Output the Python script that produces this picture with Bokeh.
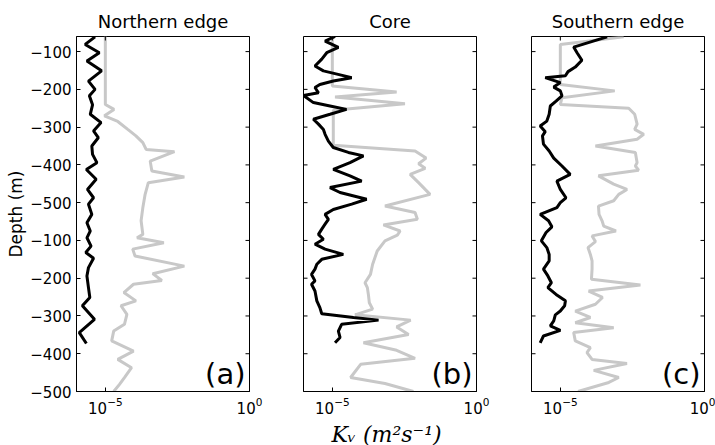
import math

from bokeh.plotting import figure
from bokeh.layouts import row
from bokeh.models import Range1d, FixedTicker, Label
from bokeh.embed import file_html
from bokeh.resources import INLINE

# ---- profile data: depth (m) and vertical diffusivity Kv (m^2/s) ----
# Northern edge
north_depth_dark = [-61, -81, -103, -125, -151, -178, -200, -217, -241, -266,
                    -288, -310, -328, -350, -372, -394, -412, -438, -465, -487,
                    -504, -531, -553, -575, -593, -615, -632, -647, -672, -694,
                    -725, -751, -773, -809, -844, -873]
north_kv_dark = [4.4e-6, 2.0e-6, 6.2e-6, 2.3e-6, 7.4e-6, 2.6e-6, 4.4e-6, 2.8e-6, 3.6e-6, 3.0e-6,
                 7.1e-6, 3.9e-6, 5.7e-6, 3.4e-6, 3.6e-6, 5.1e-6, 2.2e-6, 4.8e-6, 2.4e-6, 3.9e-6,
                 2.6e-6, 3.4e-6, 2.3e-6, 3.0e-6, 2.3e-6, 3.2e-6, 2.1e-6, 3.9e-6, 2.6e-6, 2.3e-6,
                 2.6e-6, 2.9e-6, 1.6e-6, 4.2e-6, 1.25e-6, 2.2e-6]
north_depth_light = [-60, -240, -253, -270, -285, -306, -323, -341, -359, -365,
                     -390, -416, -432, -447, -478, -513, -548, -584, -593, -606,
                     -623, -641, -668, -688, -706, -716, -738, -760, -773, -796,
                     -822, -840, -866, -893, -915, -937, -963, -981, -1000]
north_kv_light = [1.0e-5, 1.0e-5, 2.0e-5, 9.3e-6, 2.7e-5, 6.0e-5, 1.15e-4, 2.0e-4, 2.6e-4, 2.5e-3,
                  3.6e-4, 4.1e-4, 5.5e-3, 3.1e-4, 2.4e-4, 2.0e-4, 1.74e-4, 2.0e-4, 1.26e-4, 1.07e-3,
                  8.9e-5, 1.07e-4, 5.5e-3, 4.4e-4, 9.1e-4, 9.5e-5, 4.4e-5, 1.15e-4, 3.5e-5, 5.6e-5,
                  4.6e-5, 1.95e-5, 1.66e-5, 9.5e-5, 2.7e-5, 8.1e-5, 4.6e-5, 3.1e-5, 1.95e-5]

# Core
core_depth_dark = [-60, -72, -89, -103, -120, -138, -151, -169, -178, -187,
                   -195, -209, -216, -235, -244, -253, -266, -279, -292, -306,
                   -319, -337, -354, -367, -376, -394, -412, -429, -443, -460,
                   -473, -491, -504, -518, -531, -544, -557, -570, -584, -597,
                   -610, -623, -637, -650, -663, -676, -690, -707, -716, -734,
                   -760, -778, -794, -804, -811, -822, -840, -857, -871]
core_kv_dark = [1.24e-5, 5.6e-6, 1.62e-5, 6.4e-6, 4.3e-6, 2.5e-6, 4.9e-6, 4.7e-5, 1.08e-5, 3.7e-6,
                2.5e-6, 3.3e-6, 1.0e-6, 2.2e-6, 8.3e-6, 3.1e-5, 8.3e-6, 2.2e-6, 3.3e-6, 4.9e-6,
                5.6e-6, 7.3e-6, 1.08e-5, 3.6e-5, 1.2e-4, 4.1e-5, 1.08e-5, 4.1e-5, 1.04e-4, 8.3e-6,
                1.85e-5, 1.55e-4, 4.7e-5, 1.08e-5, 5.6e-6, 7.3e-6, 5.6e-6, 4.3e-6, 3.3e-6, 4.9e-6,
                2.5e-6, 5.6e-6, 2.4e-5, 4.3e-6, 2.9e-6, 2.5e-6, 1.9e-6, 2.5e-6, 1.9e-6, 2.5e-6,
                2.9e-6, 3.7e-6, 4.3e-6, 5.4e-5, 4.0e-4, 2.1e-5, 1.62e-5, 1.85e-5, 1.24e-5]
core_depth_light = [-60, -191, -207, -220, -238, -255, -348, -363, -382, -397,
                    -409, -425, -447, -478, -509, -526, -544, -559, -575, -586,
                    -601, -628, -663, -690, -712, -725, -743, -765, -782, -797,
                    -811, -829, -849, -871, -891, -912, -928, -963, -979, -1000]
core_kv_light = [1.0e-5, 1.0e-5, 1.7e-3, 1.24e-5, 3.3e-3, 1.08e-5, 1.08e-5, 7.4e-3, 1.78e-2, 9.8e-3,
                 1.66e-2, 5.0e-3, 9.8e-3, 2.45e-2, 6.7e-4, 7.4e-3, 8.9e-3, 5.9e-4, 2.24e-3, 1.8e-3,
                 6.7e-4, 3.6e-4, 2.5e-4, 2.1e-4, 1.36e-4, 1.64e-4, 1.78e-4, 1.92e-4, 2.5e-4, 6.1e-5,
                 5.2e-3, 1.7e-3, 4.4e-3, 1.2e-4, 1.7e-3, 7.4e-3, 9.6e-5, 4.3e-5, 6.7e-4, 6.5e-3]

# Southern edge
south_depth_dark = [-61, -88, -103, -123, -141, -153, -164, -169, -182, -194,
                    -204, -217, -231, -244, -266, -284, -297, -312, -323, -345,
                    -363, -382, -403, -425, -443, -465, -487, -500, -513, -531,
                    -548, -564, -579, -601, -619, -637, -654, -676, -694, -712,
                    -725, -743, -760, -773, -787, -797, -813, -826, -838, -853,
                    -871]
south_kv_dark = [4.2e-4, 2.9e-5, 3.8e-5, 5.6e-5, 3.3e-5, 1.85e-5, 1.5e-5, 3.0e-6, 1.0e-5, 5.9e-6,
                 1.0e-5, 1.14e-5, 7.1e-6, 4.5e-6, 4.1e-6, 3.4e-6, 2.0e-6, 3.0e-6, 2.4e-6, 2.6e-6,
                 4.1e-6, 5.9e-6, 1.14e-5, 2.2e-5, 7.6e-6, 1.0e-5, 1.57e-5, 1.0e-5, 7.6e-6, 2.0e-6,
                 3.9e-6, 5.1e-6, 3.2e-6, 2.2e-6, 3.4e-6, 4.1e-6, 4.1e-6, 2.6e-6, 3.7e-6, 4.9e-6,
                 3.7e-6, 7.1e-6, 1.5e-5, 1.41e-5, 1.0e-5, 6.7e-6, 5.9e-6, 4.5e-6, 1.0e-5, 2.6e-6,
                 2.0e-6]
south_depth_light = [-61, -81, -187, -204, -222, -240, -250, -266, -292, -306,
                     -319, -332, -350, -367, -394, -403, -414, -429, -451, -465,
                     -478, -495, -509, -531, -548, -562, -575, -588, -603, -619,
                     -637, -654, -676, -703, -718, -734, -751, -769, -787, -804,
                     -818, -831, -844, -866, -884, -897, -915, -926, -944, -963,
                     -976, -1000]
south_kv_light = [1.58e-3, 1.0e-5, 1.0e-5, 7.7e-4, 1.14e-5, 1.0e-5, 2.35e-3, 3.8e-3, 4.6e-3, 3.8e-3,
                  7.8e-3, 4.6e-3, 1.65e-4, 4.0e-3, 4.6e-3, 4.0e-3, 5.2e-3, 2.1e-4, 7.1e-4, 2.05e-3,
                  1.06e-3, 7.1e-4, 2.1e-4, 2.2e-4, 2.8e-4, 3.2e-4, 8.5e-4, 1.26e-4, 1.65e-4, 9.1e-5,
                  1.1e-4, 1.26e-4, 1.26e-4, 1.2e-4, 6.0e-3, 9.6e-5, 2.9e-4, 1.65e-4, 3.3e-5, 1.1e-4,
                  3.3e-5, 7.1e-4, 2.9e-5, 3.3e-5, 1.1e-4, 8.4e-5, 1.26e-4, 2.05e-3, 1.44e-4, 1.06e-3,
                  4.8e-4, 4.1e-5]

# axis ticks and their printed labels
depth_ticks = [-100, -200, -300, -400, -500, -600, -700, -800, -900, -1000]
depth_tick_labels = ["−100", "−200", "−300", "−400", "−500",
                     "−100", "−200", "−300", "−400", "−500"]
kv_ticks = [1e-5, 1.0]

KV_MIN, KV_MAX = 1e-6, 1.0
DEPTH_MIN, DEPTH_MAX = -1000, -60

FONT = "DejaVu Sans"
LIGHT = "#c8c8c8"


def style_axis(axis):
    axis.major_tick_in = 4
    axis.major_tick_out = 0
    axis.minor_tick_in = 0
    axis.minor_tick_out = 0
    axis.axis_line_color = "black"
    axis.major_tick_line_color = "black"
    axis.major_label_text_font = FONT
    axis.major_label_text_font_size = "15px"
    axis.major_label_text_color = "black"
    axis.major_label_standoff = 5


def inner_ticks(p, left=True):
    """Box-style inward tick marks on the unlabeled sides of the frame
    (half of each dash falls outside the frame and is clipped)."""
    n = len(depth_ticks)
    if left:
        p.scatter([KV_MIN] * n, depth_ticks, marker="dash", size=8,
                  line_color="black", line_width=1)
    p.scatter([KV_MAX] * n, depth_ticks, marker="dash", size=8,
              line_color="black", line_width=1)
    p.scatter(kv_ticks, [DEPTH_MAX] * len(kv_ticks), marker="dash", size=8,
              angle=math.pi / 2, line_color="black", line_width=1)


def panel(title, d_dark, k_dark, d_light, k_light, tag, b_left, b_right,
          y_labels=False, x_label=None):
    p = figure(x_axis_type="log", x_range=Range1d(KV_MIN, KV_MAX),
               y_range=Range1d(DEPTH_MIN, DEPTH_MAX),
               frame_width=173, frame_height=355,
               min_border_left=b_left, min_border_right=b_right,
               min_border_top=36, min_border_bottom=54,
               output_backend="svg", toolbar_location=None, title=title)
    p.title.align = "center"
    p.title.text_font = FONT
    p.title.text_font_size = "18px"
    p.title.text_font_style = "normal"
    p.title.text_color = "black"
    p.title.offset = 0
    p.title.standoff = 10
    p.xgrid.visible = False
    p.ygrid.visible = False
    p.outline_line_color = "black"
    p.outline_line_alpha = 1.0
    p.background_fill_color = "white"
    p.border_fill_color = "white"

    xa = p.xaxis[0]
    xa.ticker = FixedTicker(ticks=kv_ticks)
    style_axis(xa)
    if x_label:
        xa.axis_label = x_label
        xa.axis_label_text_font = "DejaVu Serif"
        xa.axis_label_text_font_style = "italic"
        xa.axis_label_text_font_size = "22px"
        xa.axis_label_text_color = "black"
        xa.axis_label_standoff = 5

    ya = p.yaxis[0]
    if y_labels:
        ya.ticker = FixedTicker(ticks=depth_ticks)
        ya.major_label_overrides = dict(zip(depth_ticks, depth_tick_labels))
        style_axis(ya)
        ya.axis_label = "Depth (m)"
        ya.axis_label_text_font = FONT
        ya.axis_label_text_font_style = "normal"
        ya.axis_label_text_font_size = "17px"
        ya.axis_label_text_color = "black"
        ya.axis_label_standoff = 1
    else:
        ya.visible = False

    p.line(k_light, d_light, line_color=LIGHT, line_width=3)
    p.line(k_dark, d_dark, line_color="black", line_width=3)
    inner_ticks(p, left=not y_labels)

    p.add_layout(Label(x=KV_MAX, y=DEPTH_MIN, text=tag, text_align="right",
                       text_baseline="bottom", x_offset=-4, y_offset=1,
                       text_font=FONT, text_font_size="29px", text_color="black"))
    return p


pa = panel("Northern edge", north_depth_dark, north_kv_dark,
           north_depth_light, north_kv_light, "(a)", 76, 27, y_labels=True)
pb = panel("Core", core_depth_dark, core_kv_dark,
           core_depth_light, core_kv_light, "(b)", 27, 28,
           x_label="Kᵥ  (m²s⁻¹)")
pc = panel("Southern edge", south_depth_dark, south_kv_dark,
           south_depth_light, south_kv_light, "(c)", 27, 11)

layout = row(pa, pb, pc, spacing=0)

open("out.html", "w").write(file_html(layout, INLINE))
